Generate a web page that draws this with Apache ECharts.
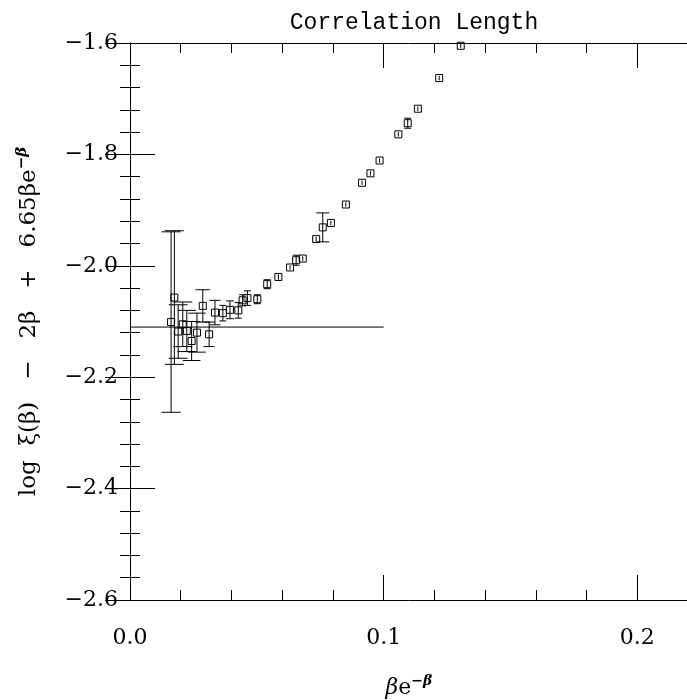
<!DOCTYPE html>
<html>
<head>
<meta charset="utf-8">
<script src="https://cdn.jsdelivr.net/npm/echarts@6/dist/echarts.min.js"></script>
<style>
  html, body { margin: 0; padding: 0; background: #fff; }
  #chart { width: 687px; height: 700px; }
</style>
</head>
<body>
<div id="chart"></div>
<script>
// beta*exp(-beta) values
const xs = [0.0162, 0.0175, 0.0190, 0.0208, 0.0224, 0.0243, 0.0264, 0.0287, 0.0312, 0.0335,
  0.0366, 0.0394, 0.0427, 0.0444, 0.0463, 0.0502, 0.0541, 0.0585, 0.0631, 0.0655,
  0.0681, 0.0734, 0.0760, 0.0792, 0.0851, 0.0915, 0.0948, 0.0984, 0.1058, 0.1095,
  0.1135, 0.1219, 0.1304];
// log xi - 2 beta + 6.65 beta e^-beta
const ys = [-2.101, -2.057, -2.118, -2.105, -2.117, -2.135, -2.120, -2.072, -2.123, -2.084,
  -2.085, -2.079, -2.080, -2.062, -2.058, -2.060, -2.033, -2.020, -2.003, -1.990,
  -1.987, -1.952, -1.931, -1.923, -1.890, -1.851, -1.834, -1.811, -1.764, -1.744,
  -1.718, -1.663, -1.605];
const errs = [0.162, 0.120, 0.048, 0.040, 0.037, 0.035, 0.035, 0.029, 0.022, 0.022,
  0.014, 0.016, 0.014, 0.010, 0.013, 0.008, 0.008, 0.005, 0.004, 0.009,
  0.004, 0.004, 0.026, 0.004, 0.004, 0.004, 0.004, 0.004, 0.004, 0.009,
  0.004, 0.004, 0.004];
const fitX = [0.0, 0.1];
const fitY = [-2.11, -2.11];

const serif = 'DejaVu Serif';
const minus = v => v.toFixed(1).replace('-', '\u2212');

const points = xs.map((x, i) => [x, ys[i], errs[i]]);

const chart = echarts.init(document.getElementById('chart'));

const tickStyle = { lineStyle: { color: '#000', width: 1 } };

chart.setOption({
  animation: false,
  backgroundColor: '#fff',
  title: {
    text: 'Correlation Length',
    left: 409,
    textAlign: 'center',
    top: 6,
    textStyle: { fontFamily: 'Liberation Mono', fontSize: 23, fontWeight: 'normal', color: '#000' }
  },
  grid: { left: 130, top: 43, width: 558, height: 557, outerBoundsMode: 'none', containLabel: false },
  xAxis: [
    {
      type: 'value', min: 0, max: 0.22, interval: 0.1,
      position: 'bottom',
      axisLine: { lineStyle: { color: '#000', width: 1 } },
      axisTick: { inside: true, length: 25, ...tickStyle },
      minorTick: { show: true, splitNumber: 5, length: 10, ...tickStyle },
      splitLine: { show: false },
      axisLabel: { margin: 27, fontFamily: serif, fontSize: 22, color: '#000', showMaxLabel: false,
        formatter: v => v.toFixed(1) },
      name: '{b|\u03b2}{e|e}{s|\u2212\u03b2}',
      nameLocation: 'middle',
      nameGap: 74,
      nameTextStyle: {
        rich: {
          b: { fontFamily: serif, fontStyle: 'italic', fontSize: 22, color: '#000' },
          e: { fontFamily: serif, fontSize: 22, color: '#000' },
          s: { fontFamily: serif, fontStyle: 'italic', fontWeight: 'bold', fontSize: 14, color: '#000', verticalAlign: 'top', padding: [0, 0, 14, 0] }
        }
      }
    },
    {
      type: 'value', min: 0, max: 0.22, interval: 0.1,
      position: 'top',
      axisLine: { lineStyle: { color: '#000', width: 1 } },
      axisTick: { inside: true, length: 25, ...tickStyle },
      minorTick: { show: true, splitNumber: 5, length: 10, ...tickStyle },
      splitLine: { show: false },
      axisLabel: { show: false }
    }
  ],
  yAxis: [
    {
      type: 'value', min: -2.6, max: -1.6, interval: 0.2,
      position: 'left',
      axisLine: { lineStyle: { color: '#000', width: 1 } },
      axisTick: { inside: true, length: 25, ...tickStyle },
      minorTick: { show: true, splitNumber: 5, length: 10, ...tickStyle },
      splitLine: { show: false },
      axisLabel: { margin: 12, fontFamily: serif, fontSize: 22, color: '#000', formatter: minus },
      name: '{t|log  \u03be(\u03b2)   \u2212   2\u03b2   +   6.65\u03b2e}{s|\u2212\u03b2}',
      nameLocation: 'middle',
      nameGap: 86,
      nameRotate: 90,
      nameTextStyle: {
        rich: {
          t: { fontFamily: serif, fontSize: 23, color: '#000' },
          s: { fontFamily: serif, fontStyle: 'italic', fontWeight: 'bold', fontSize: 15, color: '#000', verticalAlign: 'top', padding: [0, 0, 14, 0] }
        }
      }
    },
    {
      type: 'value', min: -2.6, max: -1.6, interval: 0.2,
      position: 'right',
      axisLine: { lineStyle: { color: '#000', width: 1 } },
      axisTick: { inside: true, length: 25, ...tickStyle },
      minorTick: { show: true, splitNumber: 5, length: 10, ...tickStyle },
      splitLine: { show: false },
      axisLabel: { show: false }
    }
  ],
  series: [
    {
      type: 'line',
      data: fitX.map((x, i) => [x, fitY[i]]),
      symbol: 'none',
      lineStyle: { color: '#000', width: 1 },
      z: 1
    },
    {
      type: 'custom',
      data: points,
      z: 2,
      renderItem: (params, api) => {
        const x = api.value(0), y = api.value(1), e = api.value(2);
        const top = api.coord([x, y + e]);
        const bot = api.coord([x, y - e]);
        const ePx = (bot[1] - top[1]) / 2;
        const hw = Math.min(9.5, Math.max(3.5, ePx * 0.45));
        const st = { stroke: '#000', lineWidth: 1 };
        const children = [
          { type: 'line', shape: { x1: top[0], y1: top[1], x2: bot[0], y2: bot[1] }, style: st }
        ];
        if (ePx > 3.5) {
          children.push({ type: 'line', shape: { x1: top[0] - hw, y1: top[1], x2: top[0] + hw, y2: top[1] }, style: st });
          children.push({ type: 'line', shape: { x1: bot[0] - hw, y1: bot[1], x2: bot[0] + hw, y2: bot[1] }, style: st });
        }
        return { type: 'group', children };
      }
    },
    {
      type: 'scatter',
      data: points.map(p => [p[0], p[1]]),
      symbol: 'rect',
      symbolSize: 7,
      itemStyle: { color: 'rgba(255,255,255,0)', borderColor: '#000', borderWidth: 1, opacity: 1 },
      z: 3
    }
  ]
});
</script>
</body>
</html>
